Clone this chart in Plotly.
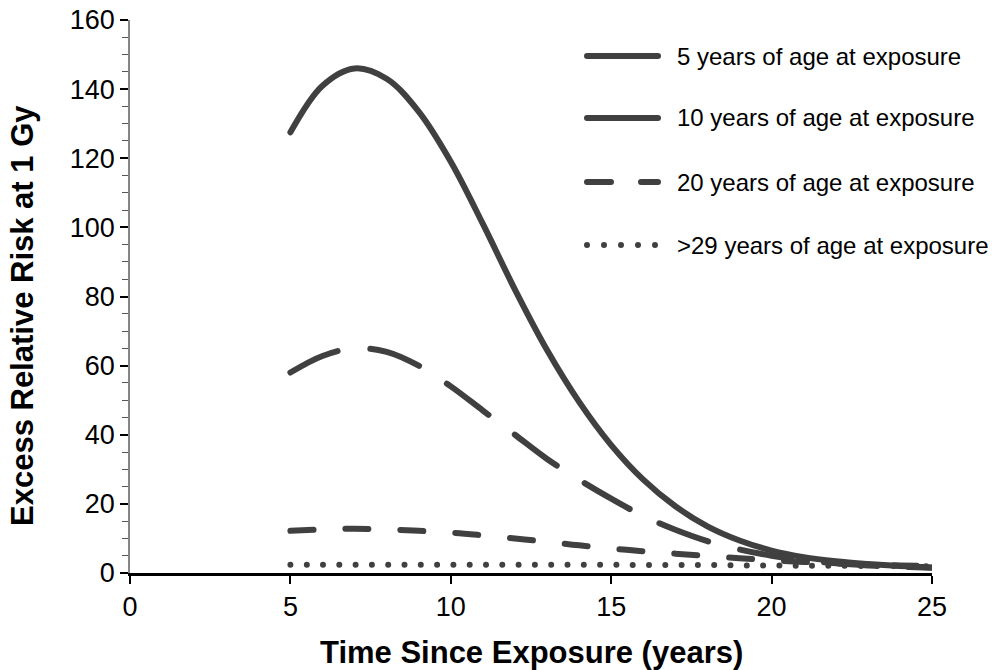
import plotly.graph_objects as go

# ---- data ----
years = [5, 6, 7, 8, 9, 10, 11, 12, 13, 14, 15, 16, 17, 18, 19, 20, 21, 22, 23, 24, 25]
err_age5 = [127.5, 141, 146, 143, 133.5, 119, 101, 82, 64.5, 49.5, 37, 27, 19.3, 13.5, 9.4, 6.5, 4.6, 3.4, 2.6, 2.0, 1.6]
err_age10 = [58, 62.8, 65, 64, 60, 54, 47, 40, 33, 27, 21.5, 16.5, 12.5, 9.2, 6.8, 5.0, 3.7, 2.8, 2.2, 1.8, 1.5]
err_age20 = [12.2, 12.6, 12.8, 12.6, 12.2, 11.7, 10.9, 10.0, 9.0, 8.0, 7.1, 6.3, 5.6, 4.9, 4.3, 3.7, 3.2, 2.8, 2.5, 2.2, 2.0]
err_age29 = [2.4, 2.4, 2.4, 2.4, 2.4, 2.4, 2.4, 2.4, 2.4, 2.4, 2.4, 2.3, 2.3, 2.3, 2.2, 2.2, 2.1, 2.1, 2.0, 2.0, 1.9]

series_names = ["5 years of age at exposure", "10 years of age at exposure",
                "20 years of age at exposure", ">29 years of age at exposure"]
series_values = [err_age5, err_age10, err_age20, err_age29]
dash_styles = ["solid", "52px,33px", "23px,32px", "0px,16.3px"]
legend_dashes = ["solid", "solid", "24px,30px", "0px,17px"]

x_ticks = [0, 5, 10, 15, 20, 25]
y_ticks = [0, 20, 40, 60, 80, 100, 120, 140, 160]
x_title = "Time Since Exposure (years)"
y_title = "Excess Relative Risk at 1 Gy"

LINE_COLOR = "#404040"
FONT = "Liberation Sans, Arial, sans-serif"
TICK_SIZE = 27
LEGEND_SIZE = 24
TITLE_SIZE = 31

fig = go.Figure()
for name, vals, dash in zip(series_names, series_values, dash_styles):
    fig.add_trace(go.Scatter(
        x=years, y=vals, name=name, mode="lines",
        line=dict(color=LINE_COLOR, width=6, dash=dash, shape="spline", smoothing=1.0),
        showlegend=False,
    ))

L, R, T, B = 130, 932, 20, 573
def px_to_paper(px, py):
    return (px - L) / (R - L), (B - py) / (B - T)

# ---- manual legend (long line samples like the original) ----
legend_rows_py = [56, 118, 182, 245]
for name, ldash, py in zip(series_names, legend_dashes, legend_rows_py):
    x0, y0 = px_to_paper(587, py)
    x1, _ = px_to_paper(655.5 if ldash.startswith("0px") else 658, py)
    fig.add_shape(type="line", xref="paper", yref="paper", x0=x0, x1=x1, y0=y0, y1=y0,
                  line=dict(color=LINE_COLOR, width=6, dash=ldash))
    tx, ty = px_to_paper(675, py)
    fig.add_annotation(xref="paper", yref="paper", x=tx, y=ty, text=name, showarrow=False,
                       xanchor="left", yanchor="middle",
                       font=dict(family=FONT, size=LEGEND_SIZE, color="#000000"))

# ---- axis titles as annotations (fixed placement) ----
ax, ay = px_to_paper(531, 652)
fig.add_annotation(xref="paper", yref="paper", x=ax, y=ay, text="<b>" + x_title + "</b>",
                   showarrow=False, xanchor="center", yanchor="middle",
                   font=dict(family=FONT, size=TITLE_SIZE, color="#000000"))
bx, by = px_to_paper(22, 316)
fig.add_annotation(xref="paper", yref="paper", x=bx, y=by, text="<b>" + y_title + "</b>",
                   showarrow=False, xanchor="center", yanchor="middle", textangle=-90,
                   font=dict(family=FONT, size=TITLE_SIZE, color="#000000"))

fig.update_layout(
    width=993, height=670,
    margin=dict(l=L, r=993 - R, t=T, b=670 - B, autoexpand=False),
    paper_bgcolor="white", plot_bgcolor="white",
    font=dict(family=FONT, size=TICK_SIZE, color="#000000"),
    showlegend=False,
)
fig.update_xaxes(
    range=[0, 25], tickvals=x_ticks, ticktext=[str(v) for v in x_ticks],
    showgrid=False, zeroline=False, showline=True, linecolor="#000000", linewidth=2.5,
    ticks="outside", ticklen=8, tickwidth=1.5, tickcolor="#000000", automargin=False,
    tickfont=dict(family=FONT, size=TICK_SIZE, color="#000000"),
)
fig.update_yaxes(
    range=[0, 160], tickvals=y_ticks, ticktext=[str(v) for v in y_ticks],
    showgrid=False, zeroline=False, showline=True, linecolor="#868686", linewidth=1.5,
    ticks="outside", ticklen=8, tickwidth=1.5, tickcolor="#000000", automargin=False,
    minor=dict(dtick=5, ticks="outside", ticklen=6, tickwidth=1, tickcolor="#555555", showgrid=False),
    tickfont=dict(family=FONT, size=TICK_SIZE, color="#000000"),
)

post = """
var s = document.createElement('style');
s.textContent = '.js-line, .shapelayer path { stroke-linecap: round !important; stroke-linejoin: round !important; }';
document.head.appendChild(s);
"""
fig.write_html("out.html", post_script=post)
